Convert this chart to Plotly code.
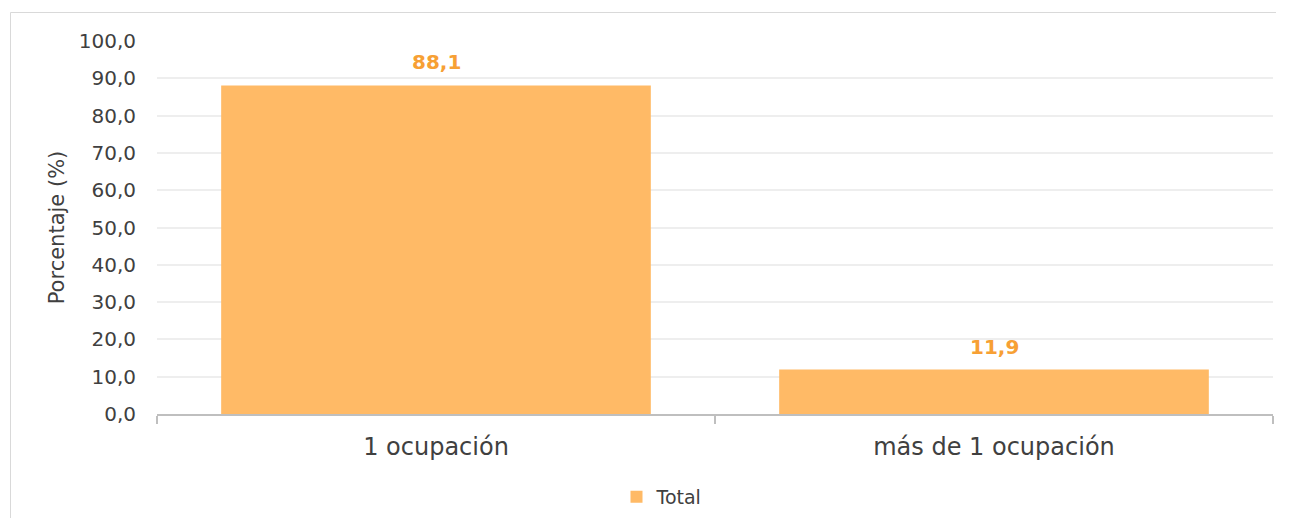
import plotly.graph_objects as go

categories = ["1 ocupación", "más de 1 ocupación"]
values = [88.1, 11.9]
labels = ["88,1", "11,9"]
series_name = "Total"

bar_color = "#FFBA66"
label_color = "#F7A034"
text_color = "#404040"
font_family = "'DejaVu Sans', sans-serif"

# page has 8px body margin on each side; keep the figure inside the viewport
OFF = 8
W, H = 1292 - 2 * OFF, 526 - 2 * OFF
ml, mt = 157 - OFF, 41 - OFF
mr = W - (1273 - OFF)
mb = H - (414 - OFF)
pw, ph = W - ml - mr, H - mt - mb

def px(x):
    return (x - OFF - ml) / pw

def py(y):
    return (H - mb - (y - OFF)) / ph

fig = go.Figure()
fig.add_trace(go.Bar(
    x=categories, y=values, name=series_name,
    marker=dict(color=bar_color, line=dict(width=0)),
    width=0.77, showlegend=True,
))

for c, v, t in zip(categories, values, labels):
    fig.add_annotation(x=c, y=v, text="<b>%s</b>" % t, showarrow=False,
                       yanchor="middle", yshift=23,
                       font=dict(size=20, color=label_color, family=font_family))

# chart-area border (left and top edges only are visible in the reference)
border = dict(color="#D9D9D9", width=1)
fig.add_shape(type="line", xref="paper", yref="paper",
              x0=px(10.5), x1=px(10.5), y0=py(12.5), y1=py(540), line=border, layer="below")
fig.add_shape(type="line", xref="paper", yref="paper",
              x0=px(10.5), x1=px(1276), y0=py(12.5), y1=py(12.5), line=border, layer="below")

fig.update_layout(
    width=W, height=H,
    margin=dict(l=ml, r=mr, t=mt, b=mb, autoexpand=False),
    paper_bgcolor="white", plot_bgcolor="white",
    separators=",.",
    font=dict(family=font_family, color=text_color),
    legend=dict(orientation="h", x=px(662), y=py(497), xanchor="center", yanchor="middle",
                font=dict(size=19, color=text_color, family=font_family),
                bgcolor="rgba(0,0,0,0)"),
    xaxis=dict(
        showgrid=False, showline=True, linecolor="#BFBFBF", linewidth=2,
        ticks="outside", tickson="boundaries", ticklen=8, tickcolor="#BFBFBF", tickwidth=2,
        tickfont=dict(size=24, color=text_color, family=font_family),
        ticklabelstandoff=10,
    ),
    yaxis=dict(
        range=[0, 100], dtick=10, tickformat=".1f",
        showgrid=True, gridcolor="#EEEEEE", gridwidth=2,
        showline=False, zeroline=False, ticks="",
        tickfont=dict(size=20, color=text_color, family=font_family),
        ticklabelstandoff=20,
        title=dict(text="Porcentaje (%)", font=dict(size=21, color=text_color, family=font_family),
                   standoff=8),
    ),
)

fig.write_html("out.html")
